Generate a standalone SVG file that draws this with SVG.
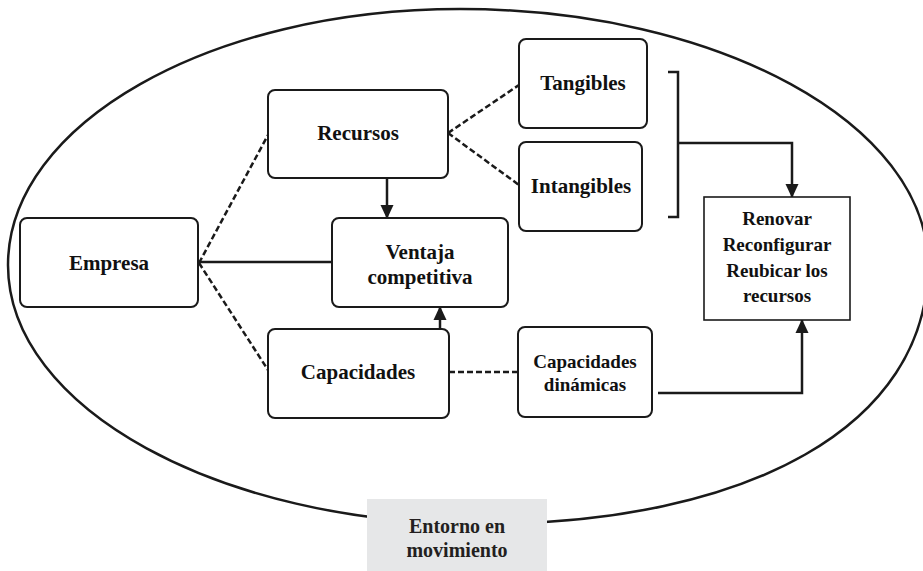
<svg xmlns="http://www.w3.org/2000/svg" width="923" height="571" viewBox="0 0 923 571">
<style>
  .box { fill: #ffffff; stroke: #1a1a1a; stroke-width: 2; }
  .sq { fill: #ffffff; stroke: #1a1a1a; stroke-width: 1.6; }
  .lbl { font-family: "Liberation Serif", "Times New Roman", serif; font-weight: bold; font-size: 21px; fill: #111; text-anchor: middle; }
  .sm { font-size: 19px; }
  .dash { fill: none; stroke: #1a1a1a; stroke-width: 2.5; stroke-dasharray: 6 3; }
  .solid { fill: none; stroke: #1a1a1a; stroke-width: 2.5; }
  .env { font-family: "Liberation Serif", "Times New Roman", serif; font-weight: bold; font-size: 20px; fill: #231f20; text-anchor: middle; }
</style>
<defs>
  <marker id="arr" markerUnits="userSpaceOnUse" markerWidth="14" markerHeight="14" viewBox="0 0 14 14" refX="13" refY="7" orient="auto">
    <path d="M0,0.5 L14,7 L0,13.5 Z" fill="#1a1a1a"/>
  </marker>
</defs>
<rect width="923" height="571" fill="#ffffff"/>
<g id="entorno-ellipse">
  <path d="M 8,265 C 8,124 210,9 460,9 C 718,9 928,124 928,265 C 928,425 750,524 480,524 C 219,524 8,408 8,265 Z" fill="none" stroke="#1a1a1a" stroke-width="2.5"/>
</g>
<g id="connectors">
  <line class="dash" x1="199" y1="263" x2="268" y2="135"/>
  <line class="dash" x1="199" y1="263" x2="268" y2="370"/>
  <line class="solid" x1="199" y1="262" x2="332" y2="262"/>
  <line class="dash" x1="448" y1="133" x2="519" y2="85"/>
  <line class="dash" x1="448" y1="133" x2="519" y2="185"/>
  <line class="solid" x1="387" y1="178" x2="387" y2="218" marker-end="url(#arr)"/>
  <line class="solid" x1="440" y1="329" x2="440" y2="307" marker-end="url(#arr)"/>
  <line class="dash" x1="449" y1="372" x2="518" y2="372"/>
  <polyline class="solid" points="668,72 678,72 678,217 668,217"/>
  <polyline class="solid" points="678,143 792,143 792,197" marker-end="url(#arr)"/>
  <polyline class="solid" points="658,393 802,393 802,320" marker-end="url(#arr)"/>
</g>
<g id="empresa">
  <rect class="box" x="20" y="218" width="178" height="89" rx="7"/>
  <text class="lbl" x="109" y="270">Empresa</text>
</g>
<g id="recursos">
  <rect class="box" x="268" y="90" width="180" height="88" rx="7"/>
  <text class="lbl" x="358" y="140">Recursos</text>
</g>
<g id="tangibles">
  <rect class="box" x="519" y="39" width="128" height="89" rx="7"/>
  <text class="lbl" x="583" y="90">Tangibles</text>
</g>
<g id="intangibles">
  <rect class="box" x="519" y="142" width="123" height="89" rx="7"/>
  <text class="lbl" x="581" y="193">Intangibles</text>
</g>
<g id="ventaja">
  <rect class="box" x="332" y="218" width="176" height="89" rx="7"/>
  <text class="lbl" x="420" y="259">Ventaja</text>
  <text class="lbl" x="420" y="284">competitiva</text>
</g>
<g id="capacidades">
  <rect class="box" x="268" y="329" width="181" height="89" rx="7"/>
  <text class="lbl" x="358" y="379">Capacidades</text>
</g>
<g id="capacidades-dinamicas">
  <rect class="box" x="518" y="327" width="134" height="90" rx="7"/>
  <text class="lbl sm" x="585" y="368">Capacidades</text>
  <text class="lbl sm" x="585" y="391">dinámicas</text>
</g>
<g id="renovar">
  <rect class="sq" x="704" y="197" width="146" height="123"/>
  <text class="lbl sm" x="777" y="225">Renovar</text>
  <text class="lbl sm" x="777" y="251">Reconfigurar</text>
  <text class="lbl sm" x="777" y="277">Reubicar los</text>
  <text class="lbl sm" x="777" y="302">recursos</text>
</g>
<g id="entorno-label">
  <rect x="367" y="499" width="180" height="72" fill="#e6e7e8"/>
  <text class="env" x="457" y="533">Entorno en</text>
  <text class="env" x="457" y="557">movimiento</text>
</g>
</svg>
